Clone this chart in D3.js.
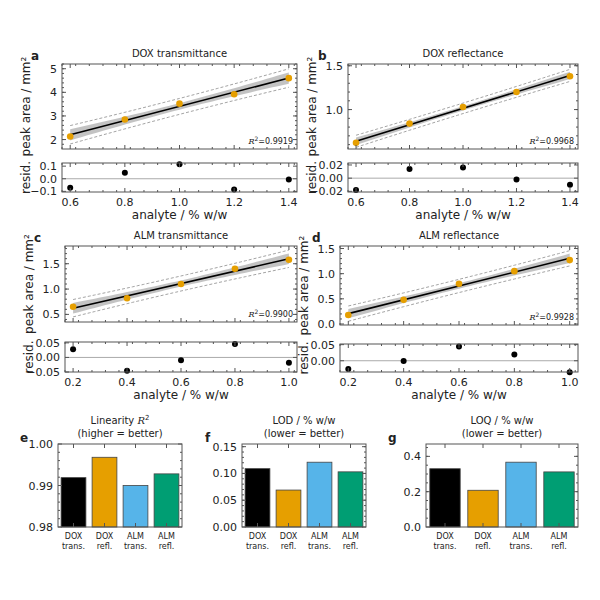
<!DOCTYPE html>
<html lang="en">
<head>
<meta charset="UTF-8">
<title>Calibration</title>
<style>
  body { margin: 0; background: #fff; }
  svg text { font-family: "DejaVu Sans", sans-serif; fill: #222; }
</style>
<script src="https://d3js.org/d3.v7.min.js"></script>
</head>
<body>
<svg id="chart" width="600" height="600"></svg>
<script>
// calibration data
var doxConc = [0.6, 0.8, 1.0, 1.2, 1.4];
var almConc = [0.2, 0.4, 0.6, 0.8, 1.0];
var doxTransArea = [2.13, 2.85, 3.52, 3.92, 4.60];
var doxReflArea = [0.62, 0.84, 1.03, 1.20, 1.38];
var almTransArea = [0.65, 0.82, 1.10, 1.40, 1.58];
var almReflArea = [0.18, 0.48, 0.80, 1.05, 1.27];
var r2Labels = ["0.9919", "0.9968", "0.9900", "0.9928"];

// summary
var methods = [["DOX", "trans."], ["DOX", "refl."], ["ALM", "trans."], ["ALM", "refl."]];
var methodColors = ["#000000", "#E69F00", "#56B4E9", "#009E73"];
var r2Values = [0.9919, 0.9968, 0.9900, 0.9928];
var lodValues = [0.109, 0.069, 0.121, 0.103];
var loqValues = [0.330, 0.208, 0.367, 0.312];

var svg = d3.select("#chart");
var frame = "#555";

// draw inward ticks on all sides with minors
function box(g, x, y, w, h, xt, yt, xmin, ymin) {
    g.append("rect").attr("x", x).attr("y", y).attr("width", w).attr("height", h)
        .attr("fill", "none").attr("stroke", frame).attr("stroke-width", 1);
    function tk(vals, scale, horiz, len) {
        vals.forEach(function(v) {
            var p = scale(v);
            if (horiz) {
                g.append("line").attr("x1", p).attr("x2", p).attr("y1", y + h).attr("y2", y + h - len).attr("stroke", frame);
                g.append("line").attr("x1", p).attr("x2", p).attr("y1", y).attr("y2", y + len).attr("stroke", frame);
            } else {
                g.append("line").attr("y1", p).attr("y2", p).attr("x1", x).attr("x2", x + len).attr("stroke", frame);
                g.append("line").attr("y1", p).attr("y2", p).attr("x1", x + w).attr("x2", x + w - len).attr("stroke", frame);
            }
        });
    }
    if (xt) { tk(xt[0], xt[1], true, 4); if (xmin) tk(xmin, xt[1], true, 2); }
    if (yt) { tk(yt[0], yt[1], false, 4); if (ymin) tk(ymin, yt[1], false, 2); }
}

function range(a, b, s) { var r = []; for (var v = a; v <= b + 1e-9; v += s) r.push(+v.toFixed(4)); return r; }

function fitStats(xs, ys) {
    var n = xs.length, mx = d3.mean(xs), my = d3.mean(ys);
    var sxx = d3.sum(xs, function(v) { return (v - mx) * (v - mx); });
    var sxy = d3.sum(xs, function(v, i) { return (v - mx) * (ys[i] - my); });
    var b = sxy / sxx, a = my - b * mx;
    var res = ys.map(function(v, i) { return v - (a + b * xs[i]); });
    var s = Math.sqrt(d3.sum(res, function(r) { return r * r; }) / (n - 2));
    return { a: a, b: b, res: res, s: s, n: n, mx: mx, sxx: sxx, t: 3.182 };
}

function calPanel(o) {
    var g = svg.append("g");
    var x = d3.scaleLinear().domain(o.xd).range([o.x0, o.x1]);
    var y = d3.scaleLinear().domain(o.yd).range([o.y1, o.y0]);
    var f = fitStats(o.xs, o.ys);
    var grid = d3.range(0, 41).map(function(i) { return o.xs[0] + (o.xs[4] - o.xs[0]) * i / 40; });
    function half(v, pi) { return f.t * f.s * Math.sqrt((pi ? 1 : 0) + 1 / f.n + (v - f.mx) * (v - f.mx) / f.sxx); }
    var yhat = function(v) { return f.a + f.b * v; };
    g.append("path").datum(grid)
        .attr("d", d3.area().x(function(v) { return x(v); })
            .y0(function(v) { return y(yhat(v) - half(v, false)); })
            .y1(function(v) { return y(yhat(v) + half(v, false)); }))
        .attr("fill", "#b8b8b8").attr("opacity", 0.85);
    [-1, 1].forEach(function(sg) {
        g.append("path").datum(grid)
            .attr("d", d3.line().x(function(v) { return x(v); }).y(function(v) { return y(yhat(v) + sg * half(v, true)); }))
            .attr("fill", "none").attr("stroke", "#999").attr("stroke-width", 0.9).attr("stroke-dasharray", "3,2");
    });
    g.append("line").attr("x1", x(o.xs[0])).attr("x2", x(o.xs[4]))
        .attr("y1", y(yhat(o.xs[0]))).attr("y2", y(yhat(o.xs[4])))
        .attr("stroke", "#000").attr("stroke-width", 1.6);
    g.selectAll(".pt").data(o.ys).enter().append("circle")
        .attr("cx", function(d, i) { return x(o.xs[i]); }).attr("cy", function(d) { return y(d); })
        .attr("r", 3.3).attr("fill", "#E69F00");
    var xmin = range(o.xd[0], o.xd[1], 0.05).filter(function(v) { return v >= o.xd[0] && v <= o.xd[1]; });
    box(g, o.x0, o.y0, o.x1 - o.x0, o.y1 - o.y0, [o.xt, x], [o.yt, y], xmin, o.ymin);
    o.yt.forEach(function(v) {
        g.append("text").attr("x", o.x0 - 5).attr("y", y(v) + 4).attr("text-anchor", "end")
            .attr("font-size", 11).text(o.yfmt(v));
    });
    g.append("text").attr("transform", "translate(" + (o.x0 - 32) + "," + ((o.y0 + o.y1) / 2) + ") rotate(-90)")
        .attr("text-anchor", "middle").attr("font-size", 12).text("peak area / mm²");
    g.append("text").attr("x", o.x1 - 4).attr("y", o.y1 - 5).attr("text-anchor", "end").attr("font-size", 8)
        .html('<tspan font-style="italic" font-family="DejaVu Serif">R</tspan><tspan dy="-3" font-size="6">2</tspan><tspan dy="3">=' + o.r2 + '</tspan>');
    g.append("text").attr("x", (o.x0 + o.x1) / 2).attr("y", o.y0 - 7).attr("text-anchor", "middle").attr("font-size", 10).text(o.title);
    g.append("text").attr("x", o.lx).attr("y", o.y0 - 4).attr("font-size", 12).attr("font-weight", "bold").text(o.letter);

    // residuals
    var ry = d3.scaleLinear().domain(o.rd).range([o.r1, o.r0]);
    g.append("line").attr("x1", o.x0).attr("x2", o.x1).attr("y1", ry(0)).attr("y2", ry(0)).attr("stroke", "#aaa");
    g.selectAll(".rp").data(f.res).enter().append("circle")
        .attr("cx", function(d, i) { return x(o.xs[i]); }).attr("cy", function(d) { return ry(d); })
        .attr("r", 3).attr("fill", "#000");
    box(g, o.x0, o.r0, o.x1 - o.x0, o.r1 - o.r0, [o.xt, x], [o.rt, ry], xmin, null);
    o.rt.forEach(function(v) {
        g.append("text").attr("x", o.x0 - 5).attr("y", ry(v) + 4).attr("text-anchor", "end")
            .attr("font-size", 11).text(o.rfmt(v).replace("-", "−"));
    });
    o.xt.forEach(function(v) {
        g.append("text").attr("x", x(v)).attr("y", o.r1 + 14).attr("text-anchor", "middle")
            .attr("font-size", 11).text(d3.format(".1f")(v));
    });
    g.append("text").attr("transform", "translate(" + (o.x0 - 32) + "," + ((o.r0 + o.r1) / 2) + ") rotate(-90)")
        .attr("text-anchor", "middle").attr("font-size", 12).text("resid.");
    g.append("text").attr("x", (o.x0 + o.x1) / 2).attr("y", o.r1 + 27).attr("text-anchor", "middle")
        .attr("font-size", 12).text("analyte / % w/w");
}

calPanel({ letter: "a", lx: 31, title: "DOX transmittance", xs: doxConc, ys: doxTransArea, r2: r2Labels[0],
    x0: 62, x1: 297, y0: 64, y1: 149, r0: 163, r1: 192,
    xd: [0.57, 1.43], xt: [0.6, 0.8, 1.0, 1.2, 1.4], yd: [1.6, 5.2], yt: [2, 3, 4, 5], ymin: range(1.8, 5.2, 0.2),
    yfmt: d3.format("d"), rd: [-0.105, 0.125], rt: [-0.1, 0.0, 0.1], rfmt: d3.format(".1f") });
calPanel({ letter: "b", lx: 318, title: "DOX reflectance", xs: doxConc, ys: doxReflArea, r2: r2Labels[1],
    x0: 348, x1: 578, y0: 64, y1: 149, r0: 163, r1: 192,
    xd: [0.57, 1.43], xt: [0.6, 0.8, 1.0, 1.2, 1.4], yd: [0.55, 1.52], yt: [1.0, 1.5], ymin: range(0.6, 1.5, 0.1),
    yfmt: d3.format(".1f"), rd: [-0.021, 0.023], rt: [-0.02, 0.0, 0.02], rfmt: d3.format(".2f") });
calPanel({ letter: "c", lx: 34, title: "ALM transmittance", xs: almConc, ys: almTransArea, r2: r2Labels[2],
    x0: 65, x1: 297, y0: 246, y1: 322, r0: 342, r1: 372,
    xd: [0.17, 1.03], xt: [0.2, 0.4, 0.6, 0.8, 1.0], yd: [0.35, 1.85], yt: [0.5, 1.0, 1.5], ymin: range(0.4, 1.8, 0.1),
    yfmt: d3.format(".1f"), rd: [-0.05, 0.053], rt: [-0.05, 0.0, 0.05], rfmt: d3.format(".2f") });
calPanel({ letter: "d", lx: 312, title: "ALM reflectance", xs: almConc, ys: almReflArea, r2: r2Labels[3],
    x0: 340, x1: 578, y0: 246, y1: 325, r0: 344, r1: 372,
    xd: [0.17, 1.03], xt: [0.2, 0.4, 0.6, 0.8, 1.0], yd: [-0.02, 1.55], yt: [0.0, 0.5, 1.0, 1.5], ymin: range(0.1, 1.5, 0.1),
    yfmt: d3.format(".1f"), rd: [-0.035, 0.052], rt: [0.0, 0.05], rfmt: d3.format(".2f") });

function barPanel(o) {
    var g = svg.append("g");
    var x = d3.scaleBand().domain(d3.range(4)).range([o.x0, o.x1]).paddingInner(0.2).paddingOuter(0.1);
    var y = d3.scaleLinear().domain(o.yd).range([o.y1, o.y0]);
    g.selectAll("rect.bar").data(o.vals).enter().append("rect")
        .attr("x", function(d, i) { return x(i); }).attr("width", x.bandwidth())
        .attr("y", function(d) { return y(d); }).attr("height", function(d) { return o.y1 - y(d); })
        .attr("fill", function(d, i) { return methodColors[i]; }).attr("stroke", "#444").attr("stroke-width", 0.8);
    box(g, o.x0, o.y0, o.x1 - o.x0, o.y1 - o.y0, [d3.range(4), function(i) { return x(i) + x.bandwidth() / 2; }], [o.yt, y], null, o.ymin);
    o.yt.forEach(function(v) {
        g.append("text").attr("x", o.x0 - 5).attr("y", y(v) + 4).attr("text-anchor", "end").attr("font-size", 11).text(o.yfmt(v));
    });
    methods.forEach(function(m, i) {
        var cx = x(i) + x.bandwidth() / 2;
        g.append("text").attr("x", cx).attr("y", o.y1 + 12).attr("text-anchor", "middle").attr("font-size", 8).text(m[0]);
        g.append("text").attr("x", cx).attr("y", o.y1 + 22).attr("text-anchor", "middle").attr("font-size", 8).text(m[1]);
    });
    g.append("text").attr("x", (o.x0 + o.x1) / 2).attr("y", o.y0 - 20).attr("text-anchor", "middle").attr("font-size", 10).html(o.t1);
    g.append("text").attr("x", (o.x0 + o.x1) / 2).attr("y", o.y0 - 7).attr("text-anchor", "middle").attr("font-size", 10).text(o.t2);
    g.append("text").attr("x", o.lx).attr("y", o.y0 - 2).attr("font-size", 12).attr("font-weight", "bold").text(o.letter);
}

barPanel({ letter: "e", lx: 20, vals: r2Values, x0: 58, x1: 182, y0: 444, y1: 527, yd: [0.98, 1.0],
    yt: [0.98, 0.99, 1.0], ymin: range(0.982, 0.998, 0.002), yfmt: function(v) { return v === 1 ? "1.00" : d3.format(".2f")(v); },
    t1: 'Linearity <tspan font-style="italic" font-family="DejaVu Serif">R</tspan><tspan dy="-4" font-size="7">2</tspan>', t2: "(higher = better)" });
barPanel({ letter: "f", lx: 205, vals: lodValues, x0: 242, x1: 366, y0: 444, y1: 527, yd: [0, 0.155],
    yt: [0, 0.05, 0.10, 0.15], ymin: range(0.01, 0.15, 0.01), yfmt: d3.format(".2f"),
    t1: "LOD / % w/w", t2: "(lower = better)" });
barPanel({ letter: "g", lx: 388, vals: loqValues, x0: 426, x1: 578, y0: 444, y1: 527, yd: [0, 0.47],
    yt: [0, 0.2, 0.4], ymin: range(0.05, 0.45, 0.05), yfmt: d3.format(".1f"),
    t1: "LOQ / % w/w", t2: "(lower = better)" });
</script>
</body>
</html>
